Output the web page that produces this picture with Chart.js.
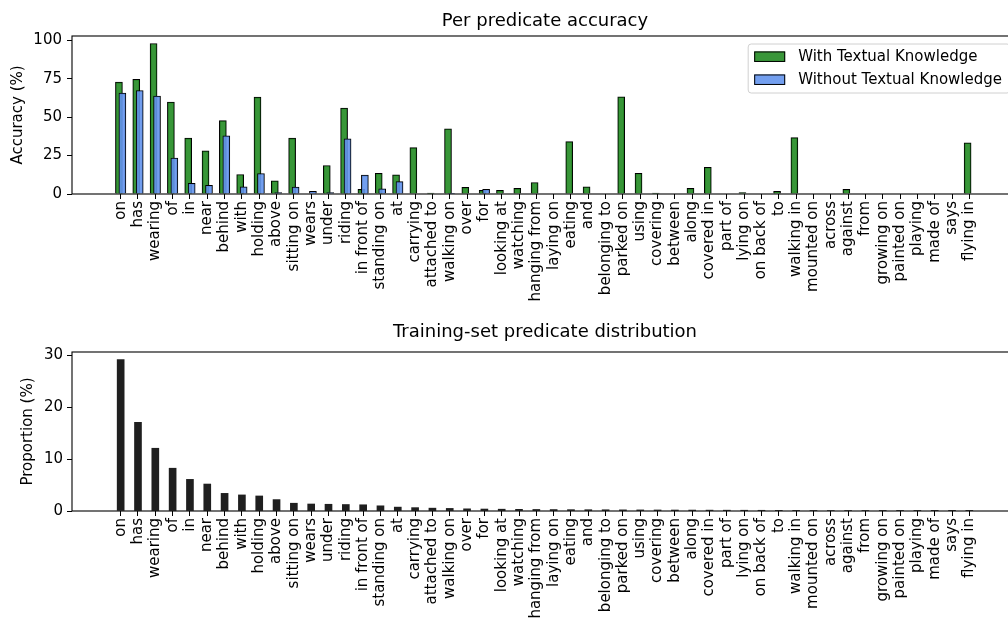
<!DOCTYPE html>
<html><head><meta charset="utf-8">
<script src="https://cdn.jsdelivr.net/npm/chart.js@4.4.0/dist/chart.umd.min.js"></script>
<style>
html,body{margin:0;padding:0;width:1008px;height:620px;overflow:hidden;background:#fff;}
#c1{position:absolute;left:0;top:0;}
#c2{position:absolute;left:0;top:315px;}
</style></head><body>
<canvas id="c1" width="1090" height="315"></canvas>
<canvas id="c2" width="1090" height="330"></canvas>
<script>
const categories = ["on","has","wearing","of","in","near","behind","with","holding","above",
  "sitting on","wears","under","riding","in front of","standing on","at","carrying","attached to","walking on",
  "over","for","looking at","watching","hanging from","laying on","eating","and","belonging to","parked on",
  "using","covering","between","along","covered in","part of","lying on","on back of","to","walking in",
  "mounted on","across","against","from","growing on","painted on","playing","made of","says","flying in"];

const withTextual = [72.7,74.6,97.8,59.8,36.3,28.0,47.7,12.7,63.0,8.6,
  36.3,0,18.5,55.9,3.0,13.5,12.5,30.1,0.6,42.4,
  4.3,2.4,2.4,3.7,7.5,0,34.0,4.7,0,63.2,
  13.5,0.6,0,3.7,17.4,0,1.0,0,1.7,36.6,
  0,0,3.0,0,0,0,0,0,0,33.3];

const withoutTextual = [65.6,67.3,63.7,23.4,6.9,5.6,37.8,4.7,13.3,1.0,
  4.5,1.7,1.0,35.9,12.3,3.4,8.0,0,0,0.5,
  0,3.0,0,0,0,0,0,0,0,0,
  0,0,0,0,0,0,0,0,0,0,
  0,0,0,0,0,0,0,0,0,0];

const proportion = [29.2,17.1,12.1,8.25,6.1,5.2,3.4,3.1,2.9,2.2,
  1.5,1.35,1.3,1.25,1.2,1.0,0.75,0.65,0.55,0.5,
  0.42,0.38,0.35,0.32,0.3,0.28,0.26,0.25,0.24,0.22,
  0.21,0.2,0.19,0.18,0.17,0.16,0.15,0.14,0.13,0.12,
  0.11,0.1,0.09,0.09,0.08,0.07,0.07,0.06,0.05,0.04];

const accuracyTicks = [0,25,50,75,100];
const proportionTicks = [0,10,20,30];

Chart.defaults.font.family = "'DejaVu Sans', sans-serif";
Chart.defaults.color = '#000';

const X_MIN = -2.81, X_MAX = 51.81;

const framePlugin = {
  id: 'frame',
  afterDraw(chart) {
    const ctx = chart.ctx, a = chart.chartArea;
    ctx.save();
    ctx.strokeStyle = '#000';
    ctx.lineWidth = 1.1;
    ctx.strokeRect(a.left, a.top, a.right - a.left, a.bottom - a.top);
    ctx.restore();

    const to = chart.options.plugins.axesTitle;
    if (to && to.text) {
      ctx.save();
      ctx.font = "18px 'DejaVu Sans'";
      ctx.fillStyle = '#000';
      ctx.textAlign = 'center';
      ctx.textBaseline = 'middle';
      ctx.fillText(to.text, (a.left + a.right) / 2, a.top - to.offset);
      ctx.restore();
    }

    const lo = chart.options.plugins.boxLegend;
    if (!lo || !lo.show) return;
    ctx.save();
    ctx.font = "15px 'DejaVu Sans'";
    const ds = chart.data.datasets;
    let tw = 0;
    ds.forEach(d => { tw = Math.max(tw, ctx.measureText(d.label).width); });
    const swW = 31, swH = 10.5, padL = 6, gap = 13, padR = 8;
    const w = padL + swW + gap + tw + padR;
    const h = 49;
    const x = a.right - 8 - w, y = a.top + 8;
    const r = 3;
    ctx.beginPath();
    ctx.moveTo(x + r, y);
    ctx.arcTo(x + w, y, x + w, y + h, r);
    ctx.arcTo(x + w, y + h, x, y + h, r);
    ctx.arcTo(x, y + h, x, y, r);
    ctx.arcTo(x, y, x + w, y, r);
    ctx.closePath();
    ctx.fillStyle = 'rgba(255,255,255,0.8)';
    ctx.fill();
    ctx.strokeStyle = '#d0d0d0';
    ctx.lineWidth = 1;
    ctx.stroke();
    ds.forEach((d, i) => {
      const cy = y + 12.7 + i * 23;
      ctx.fillStyle = d.backgroundColor;
      ctx.fillRect(x + padL, cy - swH / 2, swW, swH);
      ctx.strokeStyle = '#000';
      ctx.lineWidth = 1;
      ctx.strokeRect(x + padL + 0.5, cy - swH / 2 + 0.5, swW - 1, swH - 1);
      ctx.fillStyle = '#000';
      ctx.textBaseline = 'middle';
      ctx.textAlign = 'left';
      ctx.fillText(d.label, x + padL + swW + gap, cy);
    });
    ctx.restore();
  }
};

function makeOptions(cfg) {
  return {
    responsive: false,
    animation: false,
    events: [],
    layout: { padding: { left: 0, right: 72, top: cfg.topSpace, bottom: 0 } },
    plugins: {
      legend: { display: false },
      tooltip: { enabled: false },
      title: { display: false },
      axesTitle: { text: cfg.title, offset: cfg.titleOffset },
      boxLegend: { show: cfg.legend }
    },
    scales: {
      x: {
        type: 'linear', min: X_MIN, max: X_MAX, offset: false,
        grid: { display: true, drawOnChartArea: false, drawTicks: true, tickLength: 5, color: '#000', lineWidth: 1, offset: false },
        border: { display: false },
        afterBuildTicks: s => { s.ticks = categories.map((c, i) => ({ value: i })); },
        afterFit: s => { s.height = cfg.xHeight; },
        ticks: {
          autoSkip: false, minRotation: 90, maxRotation: 90, padding: 2,
          font: { size: 15 }, color: '#000',
          callback: v => categories[Math.round(v)] ?? ''
        }
      },
      y: {
        min: 0, max: cfg.yMax,
        afterBuildTicks: s => { s.ticks = cfg.yTicks.map(v => ({ value: v })); },
        afterFit: s => { s.width = 72; },
        grid: { display: true, drawOnChartArea: false, drawTicks: true, tickLength: 5, color: '#000', lineWidth: 1 },
        border: { display: false },
        ticks: { padding: cfg.yTickPad, font: { size: 15 }, color: '#000' },
        title: { display: true, text: cfg.yTitle, color: '#000', font: { size: 15 }, padding: { top: cfg.yTitlePad, bottom: 0 } }
      }
    }
  };
}

new Chart(document.getElementById('c1'), {
  type: 'bar',
  data: {
    datasets: [
      {
        label: 'With Textual Knowledge',
        data: withTextual.map((v, i) => ({ x: i - 0.1, y: v })),
        backgroundColor: 'rgba(34,139,34,0.9)',
        borderColor: '#000', borderWidth: 1,
        barThickness: 7, grouped: false, order: 1
      },
      {
        label: 'Without Textual Knowledge',
        data: withoutTextual.map((v, i) => ({ x: i + 0.1, y: v })),
        backgroundColor: 'rgba(100,149,237,0.9)',
        borderColor: '#000', borderWidth: 1,
        barThickness: 7, grouped: false, order: 0
      }
    ]
  },
  options: makeOptions({
    title: 'Per predicate accuracy', topSpace: 36, titleOffset: 14.5,
    xHeight: 121, yMax: 102.7, yTicks: accuracyTicks, yTitle: 'Accuracy (%)', yTitlePad: 9, yTickPad: 5,
    legend: true
  }),
  plugins: [framePlugin]
});

new Chart(document.getElementById('c2'), {
  type: 'bar',
  data: {
    datasets: [
      {
        label: 'Proportion',
        data: proportion.map((v, i) => ({ x: i, y: v })),
        backgroundColor: 'rgba(0,0,0,0.88)',
        borderWidth: 0,
        barThickness: 7, grouped: false
      }
    ]
  },
  options: makeOptions({
    title: 'Training-set predicate distribution', topSpace: 37, titleOffset: 20,
    xHeight: 134, yMax: 30.66, yTicks: proportionTicks, yTitle: 'Proportion (%)', yTitlePad: 19, yTickPad: 4,
    legend: false
  }),
  plugins: [framePlugin]
});
</script>
</body></html>
